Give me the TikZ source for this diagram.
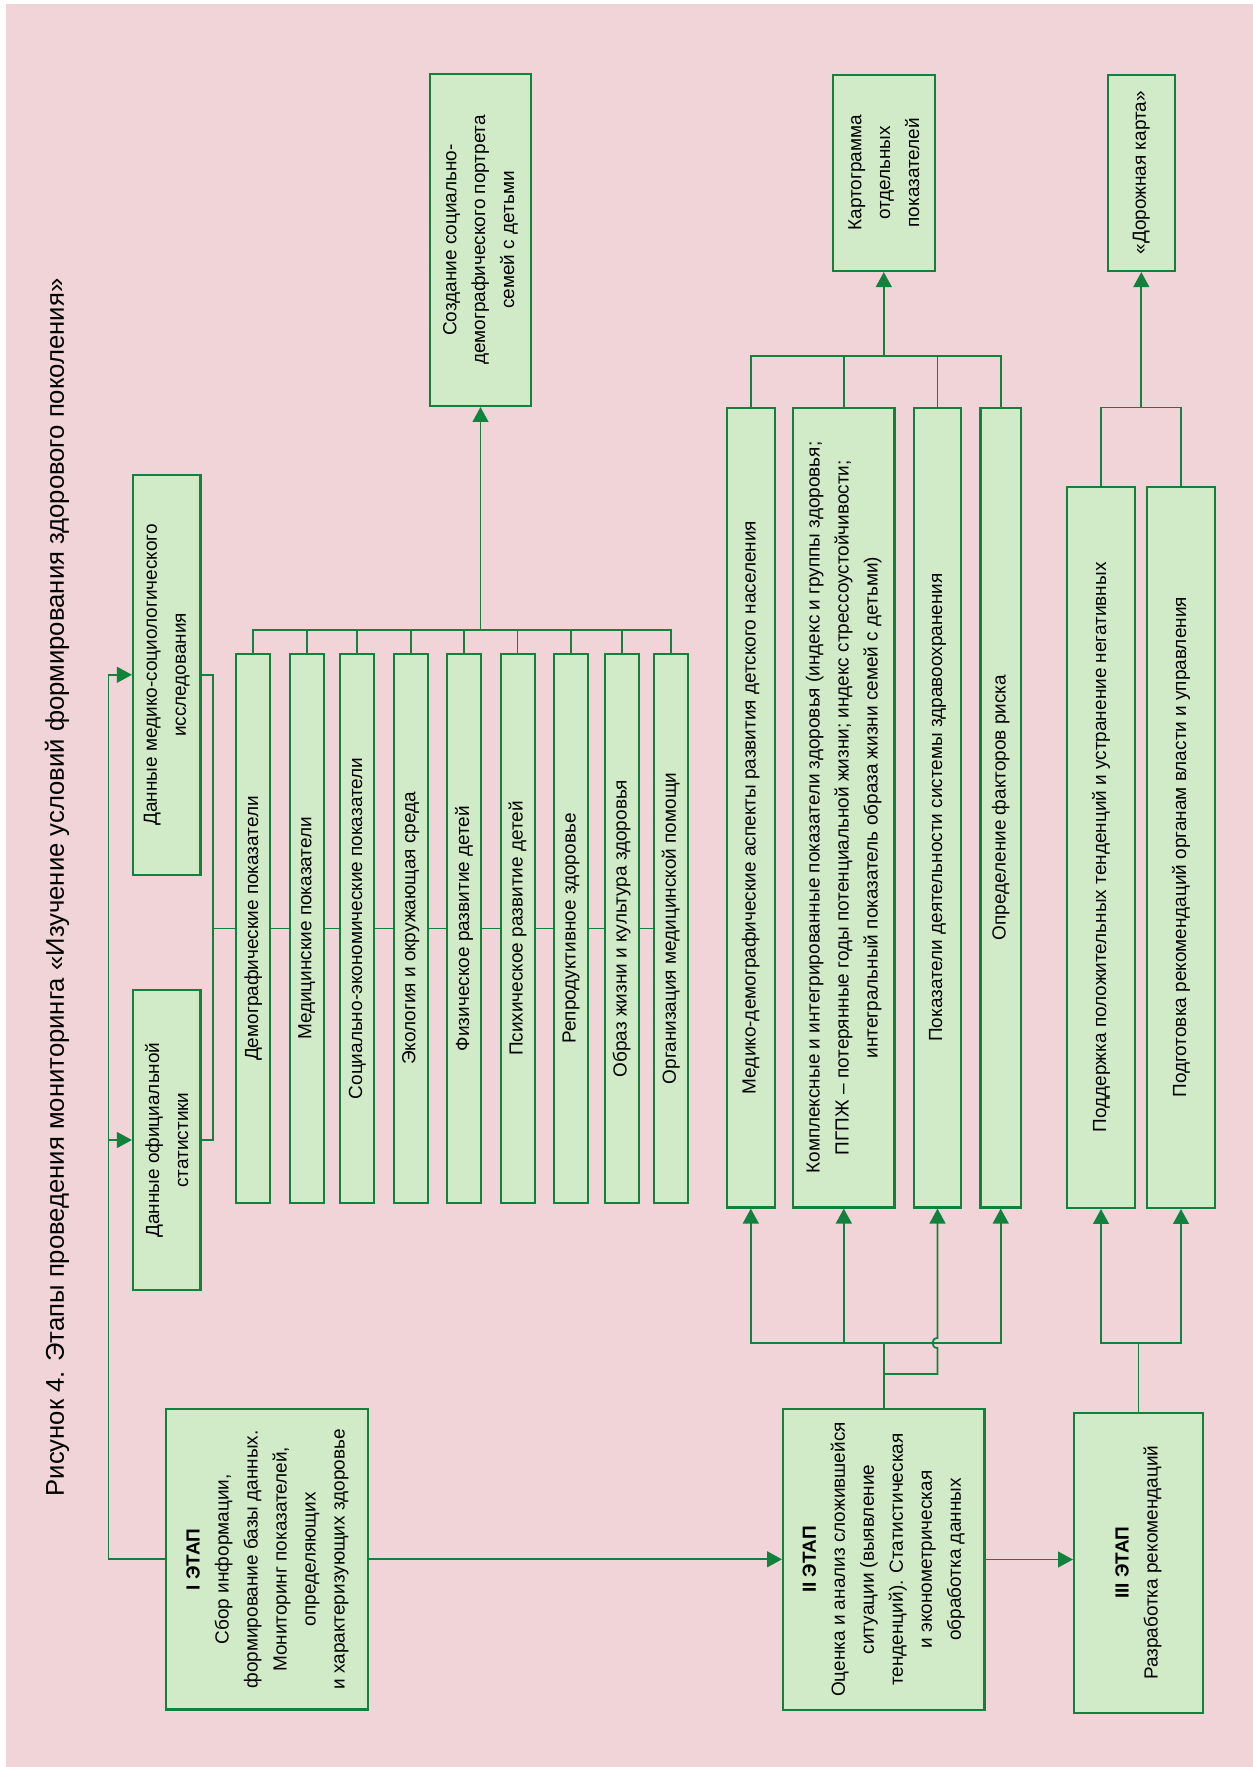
\documentclass[tikz,border=0pt]{standalone}
\usepackage{fontspec}
\setmainfont{Liberation Sans}
\usetikzlibrary{arrows.meta}

\definecolor{bgpink}{RGB}{240,212,216}
\definecolor{boxgreen}{RGB}{209,234,199}
\definecolor{linegreen}{RGB}{16,130,60}

\begin{document}
\begin{tikzpicture}[x=0.02cm, y=-0.02cm,
    box/.style={draw=linegreen, fill=boxgreen, line width=1.2pt, rotate=90,
        inner sep=2pt, align=center, font=\fontsize{10.8}{16.5}\selectfont},
    strip/.style={box, minimum width=10.98cm, minimum height=0.68cm},
    link/.style={draw=linegreen, line width=1pt},
    arr/.style={link, -{Triangle[length=8.5pt,width=9pt]}}]

    % Page and background
    \useasboundingbox (0,0) rectangle (1253,1767);
    \fill[bgpink] (6,4) rectangle (1253,1767);

    % Caption
    \node[rotate=90, inner sep=0, font=\fontsize{14.6}{18}\selectfont] (caption) at (57,887.5)
        {Рисунок 4. Этапы проведения мониторинга «Изучение условий формирования здорового поколения»};

    % Stages
    \node[box, minimum width=6.01cm, minimum height=4.04cm] (st1) at (267.4,1559.3)
        {\textbf{I ЭТАП}\\Сбор информации,\\формирование базы данных.\\Мониторинг показателей,\\определяющих\\и характеризующих здоровье};
    \node[box, minimum width=6.02cm, minimum height=4.03cm] (st2) at (883.8,1559.5)
        {\textbf{II ЭТАП}\\Оценка и анализ сложившейся\\ситуации (выявление\\тенденций). Статистическая\\и эконометрическая\\обработка данных};
    \node[box, minimum width=6.01cm, minimum height=2.58cm] (st3) at (1138.5,1562.8)
        {\textbf{III ЭТАП}\\Разработка рекомендаций};

    % Data sources
    \node[box, minimum width=6.0cm, minimum height=1.35cm] (stat) at (166.7,1140)
        {Данные официальной\\статистики};
    \node[box, minimum width=8.01cm, minimum height=1.35cm] (msoc) at (166.7,674.8)
        {Данные медико-социологического\\исследования};

    % Indicator groups
    \node[strip] (demo) at (253.3,928.5) {Демографические показатели};
    \node[strip] (medi) at (306.7,928.5) {Медицинские показатели};
    \node[strip] (soec) at (357.3,928.5) {Социально-экономические показатели};
    \node[strip] (ecol) at (410.8,928.5) {Экология и окружающая среда};
    \node[strip] (phys) at (464.1,928.5) {Физическое развитие детей};
    \node[strip] (psyc) at (517.6,928.5) {Психическое развитие детей};
    \node[strip] (repr) at (571.0,928.5) {Репродуктивное здоровье};
    \node[strip] (life) at (621.7,928.5) {Образ жизни и культура здоровья};
    \node[strip] (orgm) at (670.8,928.5) {Организация медицинской помощи};

    \node[box, minimum width=6.64cm, minimum height=2.02cm] (portrait) at (480.5,240)
        {Создание социально-\\демографического портрета\\семей с детьми};

    % Analysis results
    \node[box, minimum width=16.0cm, minimum height=0.95cm] (mda) at (750.8,807.6)
        {Медико-демографические аспекты развития детского населения};
    \node[box, minimum width=16.0cm, minimum height=2.03cm] (cmp) at (843.8,807.6)
        {Комплексные и интегрированные показатели здоровья (индекс и группы здоровья;\\ПГПЖ – потерянные годы потенциальной жизни; индекс стрессоустойчивости;\\интегральный показатель образа жизни семей с детьми)};
    \node[box, minimum width=16.0cm, minimum height=0.94cm] (shw) at (937.5,807.6)
        {Показатели деятельности системы здравоохранения};
    \node[box, minimum width=16.0cm, minimum height=0.81cm] (risk) at (1000.7,807.6)
        {Определение факторов риска};
    \node[box, minimum width=3.93cm, minimum height=2.03cm] (map) at (883.8,172.8)
        {Картограмма\\отдельных\\показателей};

    % Recommendations
    \node[box, minimum width=14.43cm, minimum height=1.36cm] (keep) at (1101,847.3)
        {Поддержка положительных тенденций и устранение негативных};
    \node[box, minimum width=14.43cm, minimum height=1.36cm] (adv) at (1181,847.3)
        {Подготовка рекомендаций органам власти и управления};
    \node[box, minimum width=3.93cm, minimum height=1.35cm] (road) at (1141.3,172.8)
        {«Дорожная карта»};

    % Define junction points
    \coordinate (feed) at (108.5,1559.3);
    \coordinate (join) at (213,928.5);
    \coordinate (bus9) at (480.5,630);
    \coordinate (fork) at (883.8,1374);
    \coordinate (bus2) at (883.8,1343);
    \coordinate (bus3) at (883.8,356);
    \coordinate (bus4) at (1138.5,1343);
    \coordinate (bus5) at (1141.3,407.6);

    % Stage I to data sources
    \draw[arr] (st1.north) -- (feed) |- (msoc.north);
    \draw[arr] (feed) |- (stat.north);
    \draw[link] (msoc.south) -| (join);
    \draw[link] (stat.south) -| (join);

    % Line through the indicator groups
    \draw[link] (join) -- (demo.north);
    \draw[link] (demo.south) -- (medi.north);
    \draw[link] (medi.south) -- (soec.north);
    \draw[link] (soec.south) -- (ecol.north);
    \draw[link] (ecol.south) -- (phys.north);
    \draw[link] (phys.south) -- (psyc.north);
    \draw[link] (psyc.south) -- (repr.north);
    \draw[link] (repr.south) -- (life.north);
    \draw[link] (life.south) -- (orgm.north);

    % Indicator groups to portrait
    \draw[link] (demo.east) |- (bus9) -| (orgm.east);
    \draw[link] (medi.east) -- (medi.east |- bus9);
    \draw[link] (soec.east) -- (soec.east |- bus9);
    \draw[link] (ecol.east) -- (ecol.east |- bus9);
    \draw[link] (phys.east) -- (phys.east |- bus9);
    \draw[link] (psyc.east) -- (psyc.east |- bus9);
    \draw[link] (repr.east) -- (repr.east |- bus9);
    \draw[link] (life.east) -- (life.east |- bus9);
    \draw[arr] (bus9) -- (portrait.west);

    % Stage flow
    \draw[arr] (st1.south) -- (st1.south -| st2.north);
    \draw[arr] (st2.south) -- (st2.south -| st3.north);

    % Stage II to results
    \draw[link] (st2.east) -- (bus2);
    \draw[arr] (bus2) -| (mda.west);
    \draw[arr] (bus2) -| (cmp.west);
    \draw[arr] (bus2) -| (risk.west);
    \draw[arr] (fork) -- (fork -| shw.west) -- ++(0,-26)
        .. controls +(-6.7,0) and +(-6.7,0) .. ++(0,-10) -- (shw.west);
    \draw[link] (mda.east) |- (bus3) -| (risk.east);
    \draw[link] (cmp.east) -- (cmp.east |- bus3);
    \draw[link] (shw.east) -- (shw.east |- bus3);
    \draw[arr] (bus3) -- (map.west);

    % Stage III to recommendations
    \draw[link] (st3.east) -- (bus4);
    \draw[arr] (bus4) -| (keep.west);
    \draw[arr] (bus4) -| (adv.west);
    \draw[link] (keep.east) |- (bus5) -| (adv.east);
    \draw[arr] (bus5) -- (road.west);
\end{tikzpicture}
\end{document}
